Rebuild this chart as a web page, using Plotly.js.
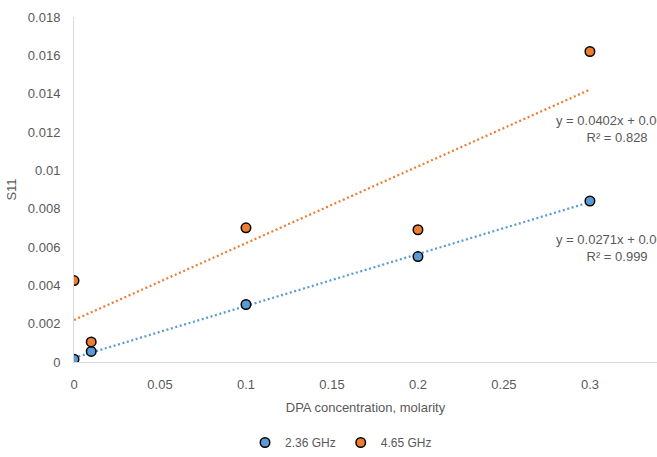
<!DOCTYPE html>
<html>
<head>
<meta charset="utf-8">
<script src="https://cdn.plot.ly/plotly-3.0.1.min.js"></script>
<style>html,body{margin:0;padding:0;background:#fff;}#chart{width:657px;height:457px;}</style>
</head>
<body>
<div id="chart"></div>
<script>
// Data
const concentration = [0, 0.01, 0.1, 0.2, 0.3];
const s11_236GHz = [0.00015, 0.00055, 0.0030, 0.0055, 0.0084];
const s11_465GHz = [0.00425, 0.00105, 0.0070, 0.0069, 0.0162];
const seriesNames = ["2.36 GHz", "4.65 GHz"];
const trendLabels = ["y = 0.0271x + 0.0002<br>R² = 0.999", "y = 0.0402x + 0.0022<br>R² = 0.828"];
const yTicks = [0, 0.002, 0.004, 0.006, 0.008, 0.01, 0.012, 0.014, 0.016, 0.018];
const xTicks = [0, 0.05, 0.1, 0.15, 0.2, 0.25, 0.3];

const blue = "#5b9bd5", orange = "#ed7d31", txt = "#595959";

function fit(x, y) {
  const n = x.length;
  const mx = x.reduce((a, b) => a + b, 0) / n;
  const my = y.reduce((a, b) => a + b, 0) / n;
  let sxy = 0, sxx = 0;
  for (let i = 0; i < n; i++) { sxy += (x[i] - mx) * (y[i] - my); sxx += (x[i] - mx) ** 2; }
  const m = sxy / sxx;
  return { m: m, b: my - m * mx };
}
const xr = [concentration[0], concentration[concentration.length - 1]];
const fB = fit(concentration, s11_236GHz);
const fO = fit(concentration, s11_465GHz);

const font = { family: "Liberation Sans, Arial, sans-serif", color: txt, size: 13 };

const traces = [
  { x: xr, y: xr.map(v => fB.m * v + fB.b), mode: "lines", showlegend: false, hoverinfo: "skip",
    line: { color: blue, width: 2.25, dash: "2px,2.6px" } },
  { x: xr, y: xr.map(v => fO.m * v + fO.b), mode: "lines", showlegend: false, hoverinfo: "skip",
    line: { color: orange, width: 2.25, dash: "2px,2.6px" } },
  { x: concentration, y: s11_236GHz, mode: "markers", name: seriesNames[0],
    marker: { color: blue, size: 9.5, line: { color: "#000", width: 1.5 } } },
  { x: concentration, y: s11_465GHz, mode: "markers", name: seriesNames[1],
    marker: { color: orange, size: 9.5, line: { color: "#000", width: 1.5 } } }
];

const layout = {
  width: 657, height: 457,
  margin: { l: 74, r: 0, t: 17, b: 93 },
  paper_bgcolor: "#fff", plot_bgcolor: "#fff",
  font: font,
  showlegend: true,
  legend: { orientation: "h", x: 0.458, xanchor: "center", y: -0.235, yanchor: "middle",
    font: { family: font.family, color: txt, size: 12 }, itemwidth: 30, tracegroupgap: 0 },
  xaxis: {
    range: [0, 0.339], tickvals: xTicks, ticktext: xTicks.map(String),
    showgrid: false, zeroline: false, showline: true, linecolor: "#d9d9d9", linewidth: 1,
    ticks: "", ticklabelstandoff: 10, tickfont: font,
    title: { text: "DPA concentration, molarity", font: font, standoff: 12 }
  },
  yaxis: {
    range: [0, 0.018], tickvals: yTicks, ticktext: yTicks.map(String),
    showgrid: false, zeroline: false, showline: true, linecolor: "#d9d9d9", linewidth: 1,
    ticks: "", ticklabelstandoff: 10, tickfont: font,
    title: { text: "S11", font: font, standoff: 8 }
  },
  annotations: [
    { x: 0.3157, y: 0.00596, xref: "x", yref: "y", text: trendLabels[0], showarrow: false,
      align: "center", font: font, xanchor: "center", yanchor: "middle" },
    { x: 0.3157, y: 0.01214, xref: "x", yref: "y", text: trendLabels[1], showarrow: false,
      align: "center", font: font, xanchor: "center", yanchor: "middle" }
  ]
};

Plotly.newPlot("chart", traces, layout, { displayModeBar: false, staticPlot: true });
</script>
</body>
</html>
